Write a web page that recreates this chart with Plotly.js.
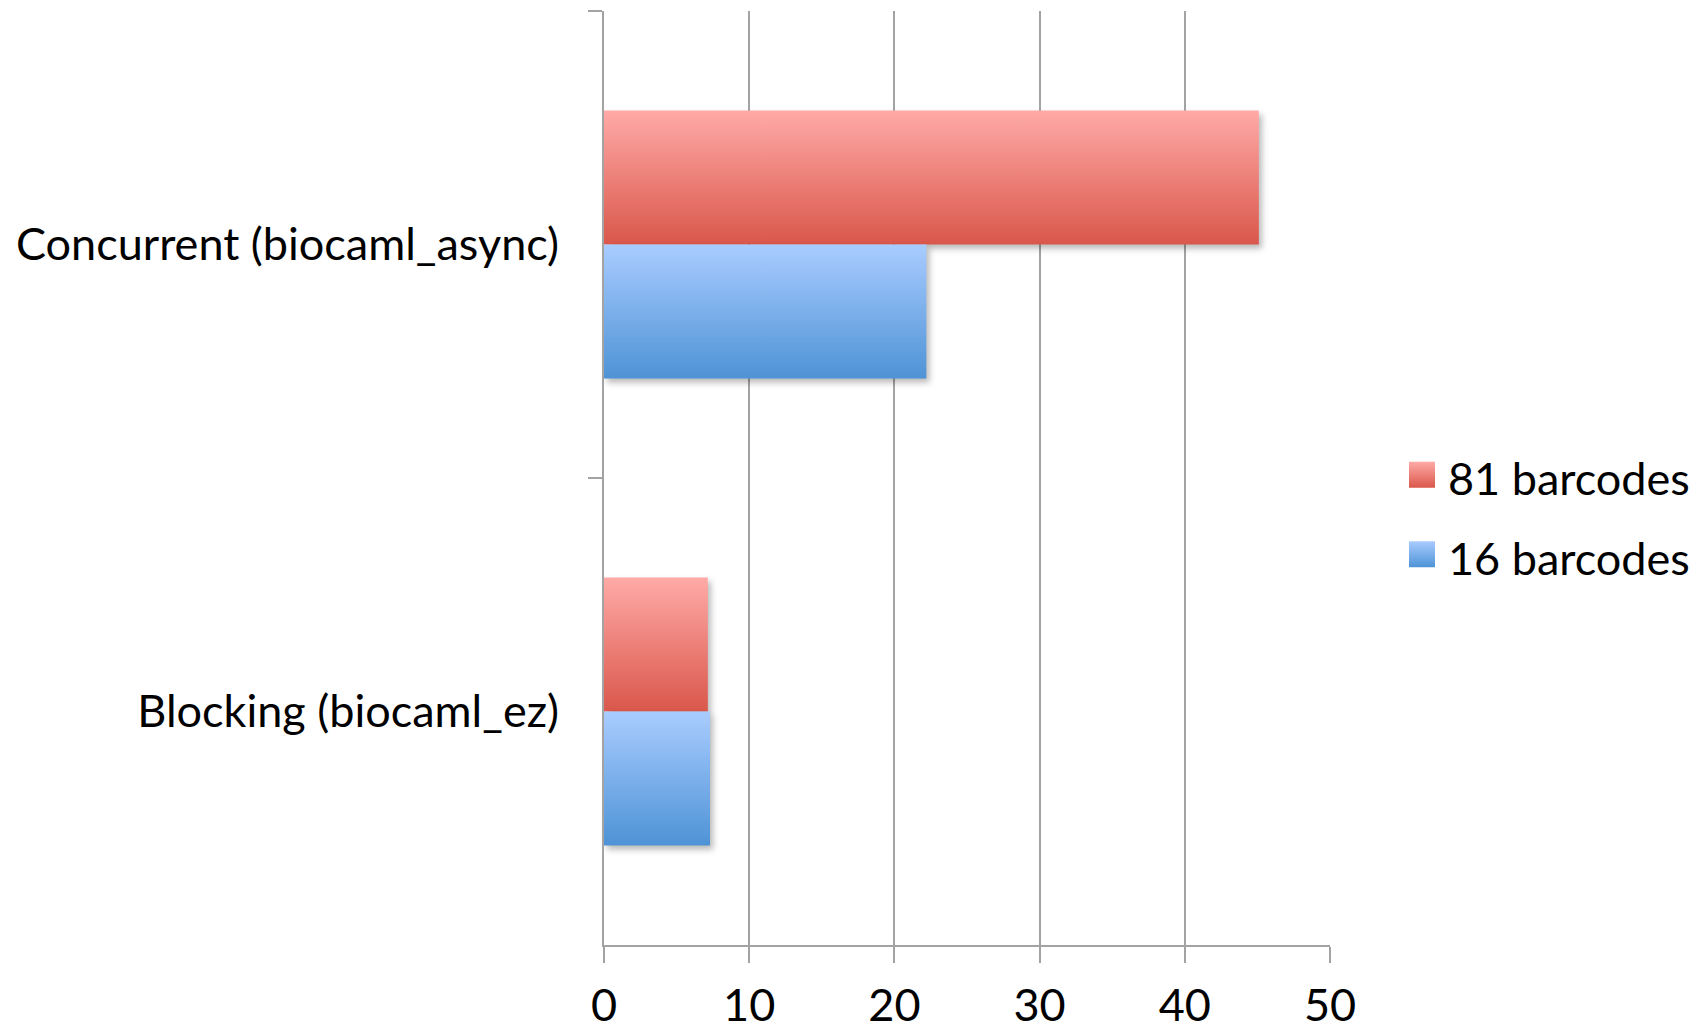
<!DOCTYPE html>
<html>
<head>
<meta charset="utf-8">
<script src="https://cdn.plot.ly/plotly-3.0.1.min.js"></script>
<style>
  html, body { margin: 0; padding: 0; background: #ffffff; }
  #chart { width: 1703px; height: 1032px; }
  #gradDefs { position: absolute; width: 0; height: 0; overflow: hidden; }
</style>
</head>
<body>
<svg id="gradDefs" xmlns="http://www.w3.org/2000/svg">
  <defs>
    <linearGradient id="gradRed" x1="0" y1="0" x2="0" y2="1">
      <stop offset="0" stop-color="#ffaaa7"/>
      <stop offset="1" stop-color="#da574b"/>
    </linearGradient>
    <linearGradient id="gradBlue" x1="0" y1="0" x2="0" y2="1">
      <stop offset="0" stop-color="#a9ccff"/>
      <stop offset="1" stop-color="#4e93d6"/>
    </linearGradient>
  </defs>
</svg>
<div id="chart"></div>
<script>
const categories = ['Concurrent (biocaml_async)', 'Blocking (biocaml_ez)'];
const series81Name = '81 barcodes';
const series81 = [45.1, 7.15];
const series16Name = '16 barcodes';
const series16 = [22.2, 7.3];
const xTicks = [0, 10, 20, 30, 40, 50];

const FONT = 'Lato, "Open Sans", sans-serif';
const FSIZE = 45;
const GRID = '#a3a3a3';

const traces = [
  {
    type: 'bar', orientation: 'h', name: series81Name, legendgroup: 'a',
    y: categories, x: series81,
    marker: { color: '#ee807a', line: { width: 0 } },
    hoverinfo: 'none'
  },
  {
    type: 'bar', orientation: 'h', name: series16Name, legendgroup: 'b',
    y: categories, x: series16,
    marker: { color: '#7cafec', line: { width: 0 } },
    hoverinfo: 'none'
  }
];

const layout = {
  width: 1703, height: 1032,
  paper_bgcolor: '#ffffff', plot_bgcolor: '#ffffff',
  margin: { l: 604, r: 373, t: 11, b: 87 },
  barmode: 'group',
  bargap: 0.426,
  bargroupgap: 0,
  font: { family: FONT, size: FSIZE, color: '#000000' },
  showlegend: true,
  legend: {
    xref: 'container', yref: 'container',
    x: 1408 / 1703, y: 1 - 442 / 1032,
    xanchor: 'left', yanchor: 'top',
    font: { family: FONT, size: FSIZE, color: '#000000' },
    bgcolor: 'rgba(0,0,0,0)', borderwidth: 0,
    traceorder: 'grouped',
    tracegroupgap: 18
  },
  xaxis: {
    range: [0, 50],
    tickvals: xTicks, ticktext: xTicks.map(String),
    showgrid: true, gridcolor: GRID, gridwidth: 2,
    zeroline: false,
    showline: true, linecolor: GRID, linewidth: 2,
    ticks: 'outside', ticklen: 16, tickwidth: 2, tickcolor: GRID,
    ticklabelstandoff: 4,
    tickfont: { family: FONT, size: FSIZE, color: '#000000' },
    fixedrange: true
  },
  yaxis: {
    type: 'category',
    categoryorder: 'array', categoryarray: categories,
    autorange: 'reversed',
    showgrid: false, zeroline: false,
    showline: true, linecolor: GRID, linewidth: 2,
    ticks: 'outside', tickson: 'boundaries', ticklen: 14, tickwidth: 2, tickcolor: GRID,
    ticklabelstandoff: 34,
    tickfont: { family: FONT, size: FSIZE, color: '#000000' },
    fixedrange: true
  }
};

function styleBars(gd) {
  const fills = ['url(#gradRed)', 'url(#gradBlue)'];
  const barTraces = gd.querySelectorAll('.barlayer .trace');
  barTraces.forEach((tr, i) => {
    tr.querySelectorAll('path').forEach(p => {
      p.style.fill = fills[i % 2];
      p.style.filter = 'drop-shadow(3px 4px 3px rgba(0,0,0,0.28))';
    });
  });
  const legend = gd.querySelector('.legend');
  if (legend) {
    legend.querySelectorAll('[clip-path]').forEach(el => el.removeAttribute('clip-path'));
    if (legend.hasAttribute('clip-path')) legend.removeAttribute('clip-path');
  }
  const legendItems = gd.querySelectorAll('.legend .traces');
  legendItems.forEach((it, i) => {
    it.querySelectorAll('.legendpoints path').forEach(p => {
      p.setAttribute('d', 'M27,10H1V-16H27Z');
      p.removeAttribute('transform');
      p.removeAttribute('clip-path');
      p.style.fill = fills[i % 2];
      p.style.strokeWidth = '0';
      p.style.opacity = '1';
    });
  });
}

Plotly.newPlot('chart', traces, layout, { staticPlot: true, displayModeBar: false })
  .then(gd => styleBars(gd));
</script>
</body>
</html>
